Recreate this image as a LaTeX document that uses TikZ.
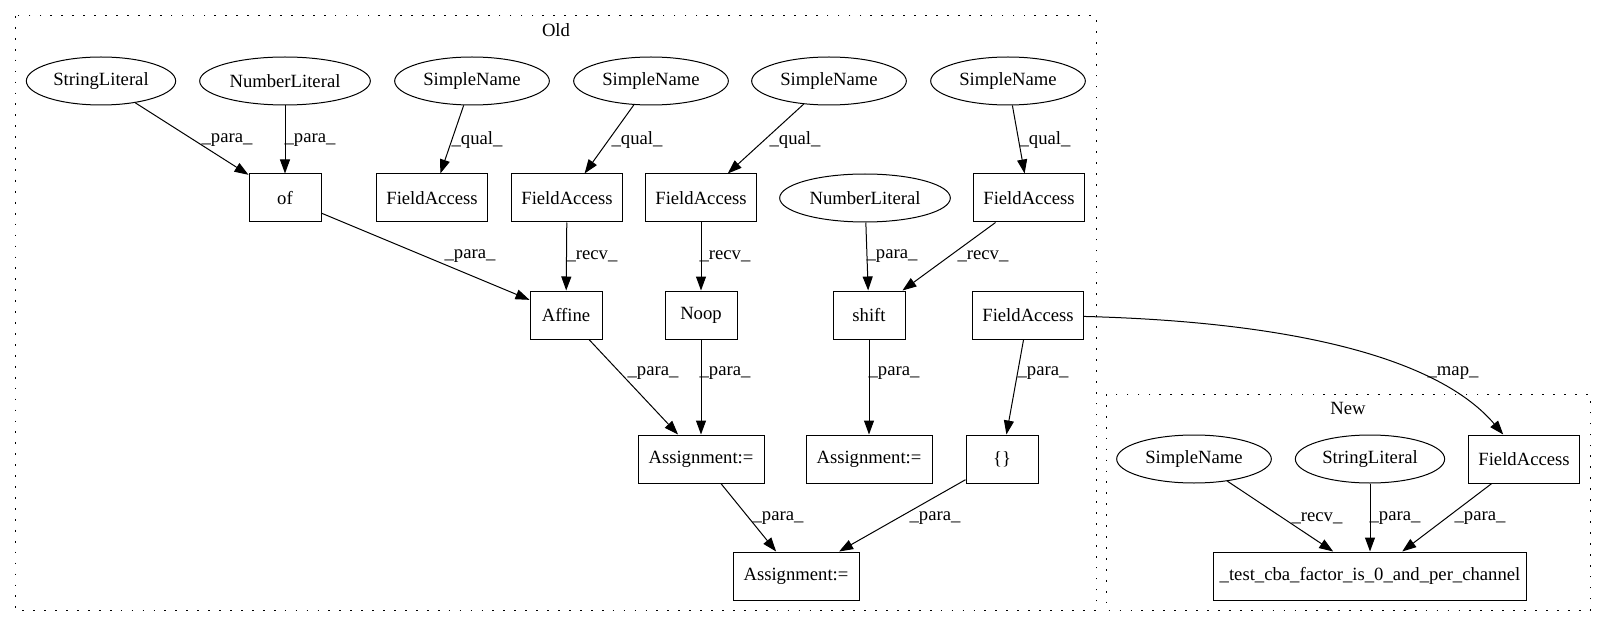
\documentclass[tikz,border=0pt]{standalone}
\usepackage{fontspec}
\setmainfont{Liberation Serif}
\usetikzlibrary{arrows.meta,shapes.geometric,positioning}

\begin{document}
\begin{tikzpicture}[x=0.75pt,y=-0.75pt,line width=.75pt,
  font=\fontsize{14}{16}\selectfont,
  >={Triangle[length=10.5pt,width=7.5pt]},
  lit/.style={ellipse, draw, minimum width=#1, minimum height=36pt, inner sep=0pt},
  lit/.default=116pt,
  ast/.style={rectangle, draw, minimum width=#1, minimum height=36pt, inner sep=0pt},
  ast/.default=54pt,
  lbl/.style={inner sep=0pt},
  grp/.style={draw, dash pattern=on 1.3pt off 6.9pt}]
\useasboundingbox (0,0) rectangle (1607,624);

% clusters
\draw[grp] (15,16) rectangle (1096,610);
\node[lbl] (lold) at (556,30) {Old};
\draw[grp] (1106,394) rectangle (1590,610);
\node[lbl] (lnew) at (1348,408) {New};

% Old: top row
\node[lit=112pt] (sl)  at (101,81)  {StringLiteral};
\node[lit=128pt] (nl)  at (285,81)  {NumberLiteral};
\node[lit] (sn1) at (472,81)  {SimpleName};
\node[lit] (sn2) at (651,81)  {SimpleName};
\node[lit] (sn3) at (829,81)  {SimpleName};
\node[lit] (sn4) at (1008,81) {SimpleName};

\node[ast] (of)  at (285,198)  {of};
\node[ast=83pt] (fa1) at (432,198)  {FieldAccess};
\node[ast=83pt] (fa2) at (567,198)  {FieldAccess};
\node[ast=83pt] (fa3) at (701,198)  {FieldAccess};
\node[lit=128pt] (nl2) at (865,198)  {NumberLiteral};
\node[ast=83pt] (fa4) at (1029,198) {FieldAccess};

\node[ast] (affine) at (566,315)  {Affine};
\node[ast] (noop)   at (701,315)  {Noop};
\node[ast] (shift)  at (869,315)  {shift};
\node[ast=83pt] (fa5)    at (1028,315) {FieldAccess};

\node[ast=94.5pt] (asg1) at (701,459)  {Assignment:=};
\node[ast=94.5pt] (asg2) at (869,459)  {Assignment:=};
\node[ast] (brc)  at (1002,459) {\{\}};

\node[ast=94.5pt] (asg3) at (796,576) {Assignment:=};

% New
\node[lit] (nsn)  at (1194,459) {SimpleName};
\node[lit=112pt] (nsl)  at (1370,459) {StringLiteral};
\node[ast=83pt] (nfa)  at (1524,459) {FieldAccess};
\node[ast=235pt] (test) at (1370,576) {\_test\_cba\_factor\_is\_0\_and\_per\_channel};

% ... edges (Old)
\draw[->] (sl) -- (of);
\node[lbl] (e1) at (227,140) {\_para\_};
\draw[->] (nl) -- (of);
\node[lbl] (e2) at (310,140) {\_para\_};
\draw[->] (sn1) -- (fa1);
\node[lbl] (e3) at (477,140) {\_qual\_};
\draw[->] (sn2) -- (fa2);
\node[lbl] (e4) at (637,140) {\_qual\_};
\draw[->] (sn3) -- (fa3);
\node[lbl] (e5) at (795,140) {\_qual\_};
\draw[->] (sn4) -- (fa4);
\node[lbl] (e6) at (1045,140) {\_qual\_};

\draw[->] (of) -- (affine);
\node[lbl] (e7) at (470,256) {\_para\_};
\draw[->] (fa2) -- (affine);
\node[lbl] (e8) at (592,256) {\_recv\_};
\draw[->] (fa3) -- (noop);
\node[lbl] (e9) at (725,256) {\_recv\_};
\draw[->] (nl2) -- (shift);
\node[lbl] (e10) at (892,256) {\_para\_};
\draw[->] (fa4) -- (shift);
\node[lbl] (e11) at (983,256) {\_recv\_};

\draw[->] (affine) -- (asg1);
\node[lbl] (e12) at (653,373) {\_para\_};
\draw[->] (noop) -- (asg1);
\node[lbl] (e13) at (725,373) {\_para\_};
\draw[->] (shift) -- (asg2);
\node[lbl] (e14) at (894,373) {\_para\_};
\draw[->] (fa5) -- (brc);
\node[lbl] (e15) at (1043,373) {\_para\_};

\draw[->] (asg1) -- (asg3);
\node[lbl] (e16) at (778,518) {\_para\_};
\draw[->] (brc) -- (asg3);
\node[lbl] (e17) at (935,518) {\_para\_};

% ... map (Old -> New)
\draw[->] (fa5) .. controls (1300,322) and (1440,360) .. (nfa);
\node[lbl] (e18) at (1453,373) {\_map\_};

% ... edges (New)
\draw[->] (nsn) -- (test);
\node[lbl] (e19) at (1317,518) {\_recv\_};
\draw[->] (nsl) -- (test);
\node[lbl] (e20) at (1395,518) {\_para\_};
\draw[->] (nfa) -- (test);
\node[lbl] (e21) at (1480,518) {\_para\_};

\end{tikzpicture}
\end{document}
